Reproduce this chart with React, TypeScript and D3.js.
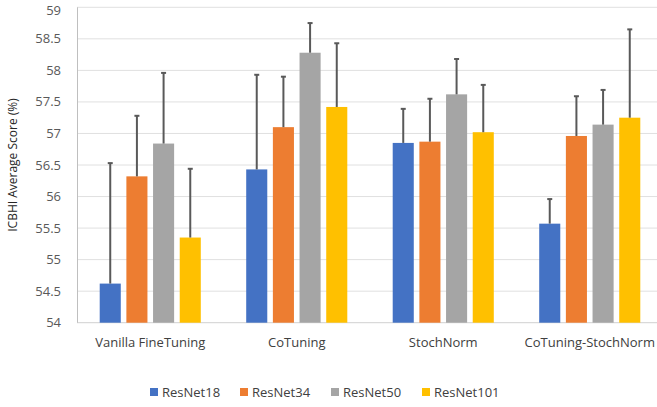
import React from "react";
import * as d3 from "d3";

const categories = ["Vanilla FineTuning", "CoTuning", "StochNorm", "CoTuning-StochNorm"];
const seriesNames = ["ResNet18", "ResNet34", "ResNet50", "ResNet101"];
const seriesColors = ["#4472C4", "#ED7D31", "#A5A5A5", "#FFC000"];
const resnet18 = [54.62, 56.43, 56.85, 55.57];
const resnet34 = [56.32, 57.10, 56.87, 56.96];
const resnet50 = [56.84, 58.28, 57.62, 57.14];
const resnet101 = [55.35, 57.42, 57.02, 57.25];
const err18 = [56.53, 57.93, 57.39, 55.96];
const err34 = [57.28, 57.90, 57.55, 57.59];
const err50 = [57.96, 58.75, 58.18, 57.69];
const err101 = [56.44, 58.43, 57.77, 58.65];
const yTicks = [54, 54.5, 55, 55.5, 56, 56.5, 57, 57.5, 58, 58.5, 59];

const values = [resnet18, resnet34, resnet50, resnet101];
const errTops = [err18, err34, err50, err101];

const W = 657;
const H = 407;
const font = "'Open Sans', 'Noto Sans', sans-serif";

export default function App() {
  const x0 = d3.scaleBand<string>().domain(categories).range([77, 663]).paddingInner(0.31).paddingOuter(0.155);
  const x1 = d3.scaleBand<string>().domain(seriesNames).range([0, x0.bandwidth()]).paddingInner(0.21);
  const y = d3.scaleLinear().domain([54, 59]).range([322.7, 7.3]);

  const legendX = [150, 240, 331, 422];

  return (
    <svg width={W} height={H} style={{ position: "absolute", left: 0, top: 0 }} fontFamily={font}>
      <rect width={W} height={H} fill="#fff" />
      {yTicks.map((t) => (
        <g key={t}>
          <line x1={77} x2={W} y1={y(t)} y2={y(t)} stroke={t === 54 ? "#d0d0d0" : "#e0e0e0"} strokeWidth={1} />
          <text x={61} y={Math.max(y(t), 10.5)} dy="0.35em" textAnchor="end" fontSize={13} fill="#595959">
            {d3.format("")(t)}
          </text>
        </g>
      ))}
      <line x1={77.5} x2={77.5} y1={y(59)} y2={y(54)} stroke="#bfbfbf" strokeWidth={1} />
      {categories.map((c, ci) => (
        <g key={c} transform={`translate(${x0(c)},0)`}>
          {seriesNames.map((s, si) => {
            const v = values[si][ci];
            const bx = x1(s)!;
            const bw = x1.bandwidth();
            const cx = bx + bw / 2;
            const et = errTops[si][ci];
            return (
              <g key={s}>
                <rect x={bx} y={y(v)} width={bw} height={y(54) - y(v)} fill={seriesColors[si]} />
                <line x1={cx} x2={cx} y1={y(v)} y2={y(et)} stroke="#595959" strokeWidth={2} />
                <line x1={cx - 2.5} x2={cx + 2.5} y1={y(et)} y2={y(et)} stroke="#595959" strokeWidth={2} />
              </g>
            );
          })}
          <text x={x0.bandwidth() / 2} y={347} textAnchor="middle" fontSize={13} fill="#404040">
            {c}
          </text>
        </g>
      ))}
      <text
        transform={`translate(17,${(y(54) + y(59)) / 2}) rotate(-90)`}
        textAnchor="middle"
        fontSize={12}
        fill="#262626"
      >
        ICBHI Average Score (%)
      </text>
      {seriesNames.map((s, i) => (
        <g key={s} transform={`translate(${legendX[i]},388)`}>
          <rect x={0} y={0} width={8} height={8} fill={seriesColors[i]} />
          <text x={12} y={4} dy="0.35em" fontSize={13} fill="#404040">
            {s}
          </text>
        </g>
      ))}
    </svg>
  );
}
